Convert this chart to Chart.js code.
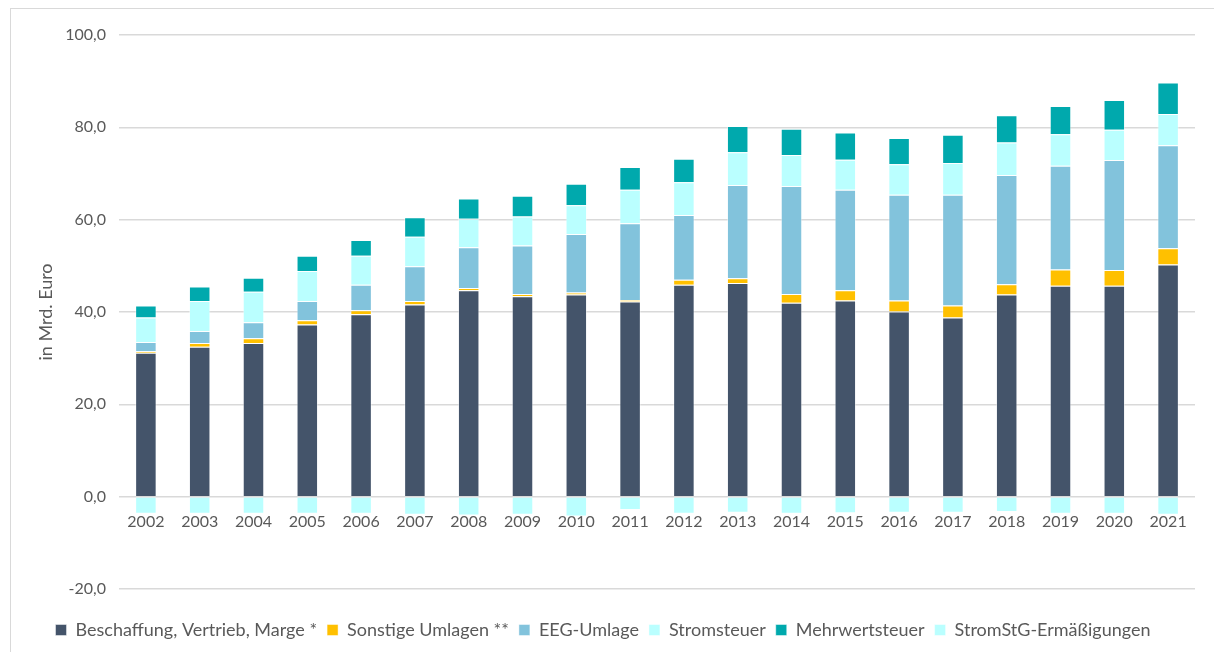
<!DOCTYPE html>
<html>
<head>
<meta charset="utf-8">
<script src="https://cdn.jsdelivr.net/npm/chart.js@4.4.1/dist/chart.umd.min.js"></script>
<style>
  html, body { margin: 0; padding: 0; background: #fff; overflow: hidden; }
  #frame {
    position: absolute; left: 10px; top: 8px;
    width: 1220px; height: 660px;
    border: 1px solid #d9d9d9;
  }
  #wrap { position: absolute; left: 0; top: 0; width: 1204px; height: 644px; }
</style>
</head>
<body>
<div id="frame"><div id="wrap"><canvas id="chart"></canvas></div></div>
<script>
// Jahre
const years = ['2002', '2003', '2004', '2005', '2006', '2007', '2008', '2009', '2010', '2011',
  '2012', '2013', '2014', '2015', '2016', '2017', '2018', '2019', '2020', '2021'];

// Werte in Mrd. Euro
const beschaffung = [31.2, 32.5, 33.3, 37.3, 39.5, 41.6, 44.7, 43.4, 43.8, 42.3,
  45.9, 46.3, 42.0, 42.5, 40.1, 38.8, 43.8, 45.7, 45.7, 50.3];
const sonstigeUmlagen = [0.3, 0.8, 1.0, 0.9, 0.9, 0.8, 0.5, 0.5, 0.4, 0.3,
  1.1, 1.0, 1.9, 2.2, 2.4, 2.6, 2.2, 3.5, 3.4, 3.5];
const eegUmlage = [2.0, 2.6, 3.5, 4.2, 5.5, 7.5, 8.8, 10.5, 12.7, 16.6,
  14.0, 20.2, 23.4, 21.8, 22.9, 24.0, 23.7, 22.5, 23.8, 22.3];
const stromsteuer = [5.3, 6.5, 6.6, 6.5, 6.3, 6.4, 6.2, 6.3, 6.2, 7.3,
  7.1, 7.1, 6.7, 6.5, 6.6, 6.9, 7.0, 6.8, 6.6, 6.8];
const mehrwertsteuer = [2.6, 3.1, 3.0, 3.3, 3.4, 4.2, 4.4, 4.5, 4.7, 4.9,
  5.1, 5.7, 5.7, 5.9, 5.7, 6.1, 5.9, 6.1, 6.4, 6.8];
const stromStGErm = [-3.7, -3.7, -3.7, -3.7, -3.7, -3.9, -4.1, -3.9, -4.3, -2.9,
  -3.7, -3.5, -3.7, -3.6, -3.5, -3.5, -3.3, -3.7, -3.7, -3.9];

const yTicks = [-20, 0, 20, 40, 60, 80, 100];

const textColor = '#595959';
const gridColor = '#d9d9d9';
const fontFamily = 'Lato, "Open Sans", sans-serif';

function series(label, data, color) {
  return {
    label: label,
    data: data,
    backgroundColor: color,
    borderColor: 'rgba(255,255,255,0.45)',
    borderWidth: 1,
    barPercentage: 0.4,
    categoryPercentage: 1.0,
  };
}

const ctx = document.getElementById('chart').getContext('2d');
new Chart(ctx, {
  type: 'bar',
  data: {
    labels: years,
    datasets: [
      series('Beschaffung, Vertrieb, Marge *', beschaffung, '#44546a'),
      series('Sonstige Umlagen **', sonstigeUmlagen, '#ffc000'),
      series('EEG-Umlage', eegUmlage, '#82c3dc'),
      series('Stromsteuer', stromsteuer, '#baffff'),
      series('Mehrwertsteuer', mehrwertsteuer, '#00a9ad'),
      series('StromStG-Ermäßigungen', stromStGErm, '#baffff'),
    ],
  },
  options: {
    responsive: true,
    maintainAspectRatio: false,
    animation: false,
    layout: { padding: { top: 26, right: 20, bottom: 4, left: 0 } },
    plugins: {
      tooltip: { enabled: false },
      legend: {
        position: 'bottom',
        labels: {
          color: textColor,
          font: { family: fontFamily, size: 18 },
          boxWidth: 11,
          boxHeight: 11,
          padding: 10,
        },
      },
    },
    scales: {
      x: {
        stacked: true,
        position: { y: 0 },
        grid: { display: false },
        border: { display: false },
        ticks: {
          color: textColor,
          font: { family: fontFamily, size: 16 },
          padding: 8,
          maxRotation: 0,
          autoSkip: false,
        },
      },
      pad: {
        type: 'category',
        position: 'bottom',
        grid: { display: false },
        border: { display: false },
        ticks: { display: false },
        afterFit(scale) { scale.height = 22; },
      },
      y: {
        stacked: true,
        min: yTicks[0],
        max: yTicks[yTicks.length - 1],
        afterFit(scale) { scale.width = 108; },
        afterBuildTicks(scale) { scale.ticks = yTicks.map(v => ({ value: v })); },
        grid: { color: gridColor, lineWidth: 1.5, drawTicks: false },
        border: { display: false },
        ticks: {
          color: textColor,
          font: { family: fontFamily, size: 16 },
          padding: 13,
          callback: v => v.toFixed(1).replace('.', ','),
        },
        title: {
          display: true,
          text: 'in Mrd. Euro',
          color: textColor,
          font: { family: fontFamily, size: 18 },
          padding: { top: 24, bottom: 0 },
        },
      },
    },
  },
});
</script>
</body>
</html>
